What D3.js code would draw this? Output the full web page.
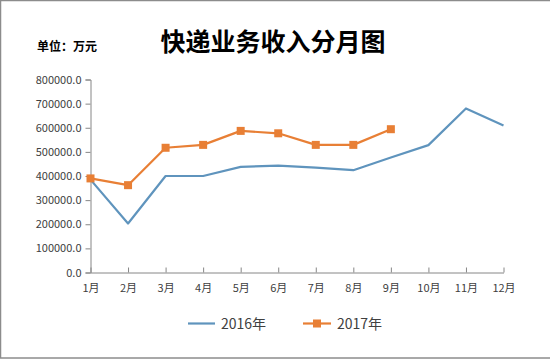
<!DOCTYPE html>
<html><head><meta charset="utf-8">
<script src="https://cdn.jsdelivr.net/npm/d3@7"></script>
<style>body{margin:0;background:#fff}svg{display:block}</style>
</head><body>
<svg id="c" width="550" height="360"></svg>
<script>
const months = ["1月","2月","3月","4月","5月","6月","7月","8月","9月","10月","11月","12月"];
const series2016 = [385000,203000,400000,400000,438000,443000,435000,424000,477000,528000,680000,609000];
const series2017 = [390000,362000,517000,529000,587000,577000,529000,529000,594000];
const yTicks = [0,100000,200000,300000,400000,500000,600000,700000,800000];
const seriesNames = ["2016年","2017年"];

const svg = d3.select("#c");
const font = "'Microsoft YaHei','Noto Sans CJK SC',sans-serif";
svg.append("rect").attr("x",0.5).attr("y",0.5).attr("width",560).attr("height",357.5)
  .attr("fill","#fff").attr("stroke","#8c8c8c").attr("stroke-width",1.5);

const x = d3.scalePoint().domain(months).range([90.5,503.5]);
const y = d3.scaleLinear().domain([0,800000]).range([272.5,79.5]);

const yAxis = d3.axisLeft(y).tickValues(yTicks).tickFormat(d=>d3.format(".1f")(d)).tickSize(5).tickPadding(4);
const gy = svg.append("g").attr("transform","translate(90.5,0)").call(yAxis);
gy.select(".domain").attr("stroke","#868686");
gy.selectAll(".tick line").attr("stroke","#868686");
gy.selectAll("text").attr("font-family",font).attr("font-size",11).attr("fill","#404040");

const xAxis = d3.axisBottom(x).tickSizeInner(-5).tickSizeOuter(0).tickPadding(12);
const gx = svg.append("g").attr("transform","translate(0,272.5)").call(xAxis);
gx.select(".domain").attr("stroke","#868686");
gx.selectAll(".tick line").attr("stroke","#868686");
gx.selectAll("text").attr("font-family",font).attr("font-size",11).attr("fill","#404040");

const blue = "#5f94bd", orange = "#e87f35";
const line = d3.line().x((d,i)=>x(months[i])).y(d=>y(d));
svg.append("path").datum(series2016).attr("d",line).attr("fill","none").attr("stroke",blue).attr("stroke-width",2.2).attr("stroke-linejoin","round");
svg.append("path").datum(series2017).attr("d",line).attr("fill","none").attr("stroke",orange).attr("stroke-width",2.2).attr("stroke-linejoin","round");
svg.selectAll(".m").data(series2017).enter().append("rect")
  .attr("x",(d,i)=>x(months[i])-4).attr("y",d=>y(d)-4).attr("width",8).attr("height",8).attr("fill",orange);

svg.append("text").attr("x",273).attr("y",51).attr("text-anchor","middle").attr("font-family",font)
  .attr("font-size",25).attr("font-weight","bold").attr("fill","#000").text("快递业务收入分月图");
svg.append("text").attr("x",37).attr("y",51).attr("font-family",font)
  .attr("font-size",12).attr("font-weight","bold").attr("fill","#000").text("单位：万元");

// legend
const lg = svg.append("g");
lg.append("line").attr("x1",188).attr("x2",215).attr("y1",323.5).attr("y2",323.5).attr("stroke",blue).attr("stroke-width",2.2);
lg.append("text").attr("x",221).attr("y",328.5).attr("font-family",font).attr("font-size",14).attr("fill","#404040").text(seriesNames[0]);
lg.append("line").attr("x1",303).attr("x2",331).attr("y1",323.5).attr("y2",323.5).attr("stroke",orange).attr("stroke-width",2.2);
lg.append("rect").attr("x",313).attr("y",319.5).attr("width",8).attr("height",8).attr("fill",orange);
lg.append("text").attr("x",337).attr("y",328.5).attr("font-family",font).attr("font-size",14).attr("fill","#404040").text(seriesNames[1]);
</script>
</body></html>
